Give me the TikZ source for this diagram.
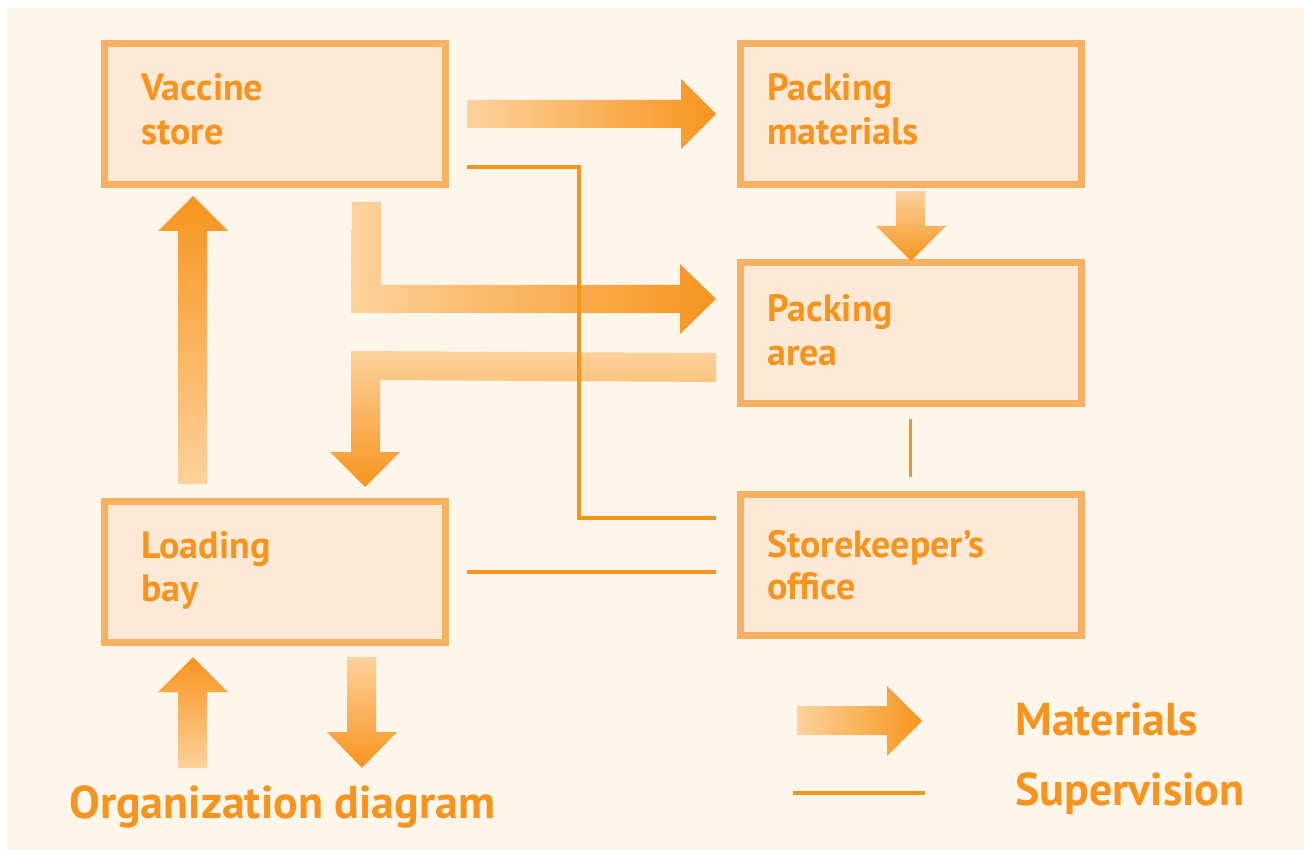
\documentclass[tikz,border=0pt]{standalone}
\usepackage{fontspec}
\setmainfont{PT Sans}
\definecolor{bgc}{HTML}{FEF5EB}
\definecolor{boxfill}{HTML}{FDE9D5}
\definecolor{boxline}{HTML}{FAB061}
\definecolor{txt}{HTML}{F7941D}
\definecolor{light}{HTML}{FDD29C}
\definecolor{dark}{HTML}{F7941D}
\tikzset{
  box/.style={draw=boxline, fill=boxfill, line width=7pt, minimum width=341pt, minimum height=141pt, inner sep=0pt, outer sep=0pt, rectangle},
  lbl/.style={anchor=base west, text=txt, inner sep=0pt, font=\fontsize{38}{44}\selectfont\bfseries},
  big/.style={anchor=base west, text=txt, inner sep=0pt, font=\fontsize{46}{52}\selectfont\bfseries},
  sup/.style={draw=txt, line width=3.3pt},
  hgrad/.style={left color=light, right color=dark, draw=none},
  upgrad/.style={top color=dark, bottom color=light, draw=none},
  downgrad/.style={top color=light, bottom color=dark, draw=none}
}
\begin{document}
\begin{tikzpicture}[x=1pt,y=-1pt]
\useasboundingbox (0,0) rectangle (1304,850);
\fill[bgc] (7,8) rectangle (1304,849.5);

% boxes
\node[box] (vs) at (275,114) {};
\node[box] (pm) at (911,114) {};
\node[box] (pa) at (911,333) {};
\node[box] (lb) at (275,572) {};
\node[box] (so) at (911,564.5) {};

% box labels
\node[lbl] (vs1) at (141,101) {Vaccine};
\node[lbl] (vs2) at (141,145) {store};
\node[lbl] (pm1) at (767,101) {Packing};
\node[lbl] (pm2) at (767,145) {materials};
\node[lbl] (pa1) at (767,322) {Packing};
\node[lbl] (pa2) at (767,365) {area};
\node[lbl] (lb1) at (141,558) {Loading};
\node[lbl] (lb2) at (141,601) {bay};
\node[lbl] (so1) at (767,557) {Storekeeper’s};
\node[lbl] (so2) at (767,599) {office};

% material arrows
\shade[hgrad] (467,100) -- (681,100) -- (681,79) -- (716,114) -- (681,149) -- (681,128) -- (467,128) -- cycle;
\shade[hgrad] (352,202) -- (381,202) -- (381,285) -- (680,285) -- (680,264) -- (716,299) -- (680,334) -- (680,313) -- (351,313) -- cycle;
\shade[downgrad] (716,353) -- (716,382) -- (380,380) -- (380,452) -- (400,452) -- (365,487) -- (330,452) -- (351,452) -- (351,351) -- cycle;
\shade[upgrad] (178,484) -- (178,231) -- (158,231) -- (193,196) -- (228,231) -- (207,231) -- (207,484) -- cycle;
\shade[downgrad] (896,191) -- (925,191) -- (925,226) -- (946,226) -- (911,261) -- (876,226) -- (896,226) -- cycle;
\shade[upgrad] (178,768) -- (178,692) -- (158,692) -- (193,657) -- (228,692) -- (207,692) -- (207,768) -- cycle;
\shade[downgrad] (347,657) -- (376,657) -- (376,732) -- (397,732) -- (362,768) -- (327,732) -- (347,732) -- cycle;

% supervision lines
\coordinate (s1a) at (467,167);
\coordinate (s1b) at (579,167);
\coordinate (s1c) at (579,518);
\coordinate (s1d) at (716,518);
\draw[sup] (s1a) -- (s1b) -- (s1c) -- (s1d);
\coordinate (s2a) at (467,572);
\coordinate (s2b) at (716,572);
\draw[sup] (s2a) -- (s2b);
\coordinate (s3a) at (910.5,419);
\coordinate (s3b) at (910.5,477);
\draw[sup] (s3a) -- (s3b);

% title
\node[big] (title) at (69,818) {Organization diagram};

% legend
\shade[hgrad] (797,706) -- (887,706) -- (887,686) -- (922,721) -- (887,756) -- (887,735) -- (797,735) -- cycle;
\coordinate (l1) at (793,793);
\coordinate (l2) at (925,793);
\draw[sup] (l1) -- (l2);
\node[big] (mat) at (1015,735) {Materials};
\node[big] (supv) at (1015,805) {Supervision};
\end{tikzpicture}
\end{document}
